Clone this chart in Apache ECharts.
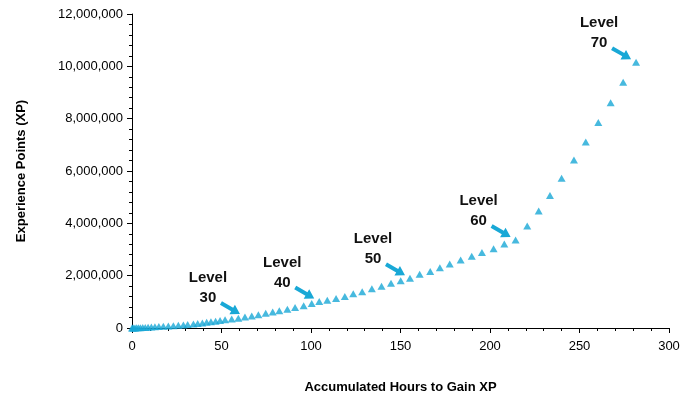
<!DOCTYPE html>
<html><head><meta charset="utf-8">
<script src="https://cdn.jsdelivr.net/npm/echarts@6/dist/echarts.min.js"></script>
<style>html,body{margin:0;padding:0;background:#fff}#c{width:696px;height:400px}</style>
</head><body><div id="c"></div>
<script>
// Accumulated hours at each level (levels 1..70)
const hours = [0, 0.4, 1.0, 1.7, 2.6, 3.6, 4.7, 6.0, 7.4, 9.0,
  10.8, 12.8, 15.0, 17.5, 20.3, 23.1, 25.9, 28.7, 31.1, 34.3,
  36.7, 39.3, 41.7, 44.1, 46.7, 49.2, 52.0, 55.7, 59.4, 63.1,
  66.9, 70.6, 74.7, 78.6, 82.3, 86.8, 91.1, 95.9, 100.4, 104.6,
  109.1, 114.0, 118.9, 123.6, 128.6, 134.0, 139.4, 144.7, 150.1, 155.3,
  160.7, 166.6, 172.0, 177.5, 183.6, 189.8, 195.5, 202.0, 208.0, 214.3,
  220.8, 227.2, 233.5, 240.0, 246.9, 253.5, 260.5, 267.4, 274.4, 281.6];
// Accumulated experience points (millions) at each level
const xpMillions = [0, 0.0004, 0.0013, 0.0027, 0.0048, 0.0076, 0.011, 0.016, 0.021, 0.028,
  0.035, 0.044, 0.053, 0.064, 0.076, 0.089, 0.103, 0.118, 0.135, 0.153,
  0.172, 0.193, 0.215, 0.238, 0.262, 0.287, 0.315, 0.345, 0.375, 0.42,
  0.46, 0.51, 0.56, 0.61, 0.66, 0.72, 0.78, 0.85, 0.94, 1.01,
  1.06, 1.13, 1.20, 1.31, 1.39, 1.50, 1.60, 1.71, 1.81, 1.90,
  2.05, 2.16, 2.30, 2.45, 2.60, 2.74, 2.89, 3.03, 3.21, 3.36,
  3.90, 4.47, 5.06, 5.72, 6.42, 7.11, 7.85, 8.61, 9.39, 10.16];
const annotatedLevels = [30, 40, 50, 60, 70];
const annotationWord = 'Level';
const xAxisTitle = 'Accumulated Hours to Gain XP';
const yAxisTitle = 'Experience Points (XP)';

const FONT = "'Liberation Sans', Arial, sans-serif";
const BLUE = '#19A8D6';
const points = hours.map((h, i) => [h, Math.round(xpMillions[i] * 1e6)]);

const chart = echarts.init(document.getElementById('c'), null, {renderer: 'canvas'});
const axisCommon = {
  type: 'value',
  nameLocation: 'middle',
  nameTextStyle: {fontFamily: FONT, fontWeight: 'bold', fontSize: 13, color: '#000'},
  axisLine: {show: true, onZero: false, lineStyle: {color: '#000', width: 1}},
  axisTick: {show: true, length: 5, lineStyle: {color: '#000'}},
  minorTick: {show: true, splitNumber: 5, length: 3, lineStyle: {color: '#000'}},
  splitLine: {show: false},
  minorSplitLine: {show: false}
};
chart.setOption({
  animation: false,
  grid: {left: 132, right: 27, top: 14, bottom: 72},
  xAxis: Object.assign({}, axisCommon, {
    min: 0, max: 300, interval: 50,
    name: xAxisTitle, nameGap: 53,
    axisLabel: {fontFamily: FONT, fontSize: 13, color: '#000', margin: 12}
  }),
  yAxis: Object.assign({}, axisCommon, {
    min: 0, max: 12000000, interval: 2000000,
    name: yAxisTitle, nameGap: 104,
    axisLabel: {fontFamily: FONT, fontSize: 13, color: '#000', margin: 9,
      formatter: v => v.toLocaleString('en-US')}
  }),
  series: [{
    type: 'scatter', data: points, symbol: 'triangle', symbolSize: [8, 7],
    itemStyle: {color: BLUE}, z: 3
  }]
});

function arrowPolygon(sx, sy, tx, ty) {
  const dx = tx - sx, dy = ty - sy, len = Math.hypot(dx, dy);
  const ux = dx / len, uy = dy / len, nx = -uy, ny = ux;
  const headLen = 9, headW = 5.5, shaftW = 2;
  const hx = tx - ux * headLen, hy = ty - uy * headLen;
  return [
    [sx + nx * shaftW, sy + ny * shaftW],
    [hx + nx * shaftW, hy + ny * shaftW],
    [hx + nx * headW, hy + ny * headW],
    [tx, ty],
    [hx - nx * headW, hy - ny * headW],
    [hx - nx * shaftW, hy - ny * shaftW],
    [sx - nx * shaftW, sy - ny * shaftW]
  ];
}

const graphics = [];
annotatedLevels.forEach(L => {
  const p = chart.convertToPixel({gridIndex: 0}, points[L - 1]);
  graphics.push({
    type: 'polygon', z: 10,
    shape: {points: arrowPolygon(p[0] - 24, p[1] - 14, p[0] - 5, p[1] - 3)},
    style: {fill: BLUE}
  });
  graphics.push({
    type: 'text', z: 10,
    style: {text: annotationWord, x: p[0] - 37, y: p[1] - 39, align: 'center', verticalAlign: 'middle',
      font: 'bold 15px ' + FONT, fill: '#111'}
  });
  graphics.push({
    type: 'text', z: 10,
    style: {text: String(L), x: p[0] - 37, y: p[1] - 19, align: 'center', verticalAlign: 'middle',
      font: 'bold 15px ' + FONT, fill: '#111'}
  });
});
chart.setOption({graphic: graphics});
</script>
</body></html>
